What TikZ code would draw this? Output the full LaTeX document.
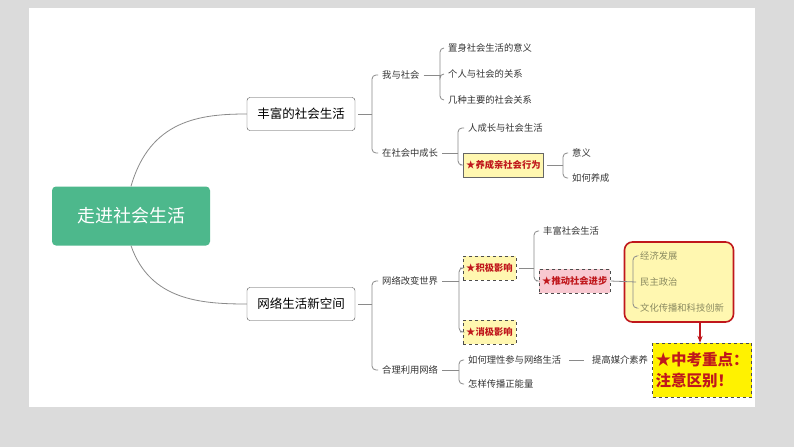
\documentclass[tikz,border=0pt]{standalone}
\usepackage{fontspec}
\setmainfont{Noto Sans CJK SC}
\usetikzlibrary{positioning,arrows.meta}
\definecolor{rootgreen}{HTML}{4DB88C}
\definecolor{lightyel}{HTML}{FFF7B0}
\definecolor{keypink}{HTML}{F8C8D0}
\definecolor{darkred}{HTML}{C0171C}
\definecolor{linegray}{HTML}{8A8A8A}
\definecolor{leafolive}{HTML}{8A8A60}
\newcommand{\lfs}{\fontsize{9.3}{11}\selectfont}
\tikzset{
  leaf/.style={anchor=west, inner sep=1pt, text=black!80, font=\lfs},
  topic/.style={draw=black!70, rounded corners=3pt, fill=white, minimum width=108pt, minimum height=33pt, font=\fontsize{12.5}{15}\selectfont},
  starbox/.style={draw=black!70, dashed, fill=lightyel, anchor=west, text=darkred, font=\lfs\bfseries, inner sep=3pt, minimum height=24pt},
  link/.style={draw=linegray, line width=0.8pt, rounded corners=4pt}
}
\newcommand{\branchto}[3]{% parent, bracket x, list of children
  \draw[link] ([xshift=3pt]#1.east) -- (#2,0 |- #1.east) coordinate (br);
  \foreach \c in {#3} \draw[link] (br) |- ([xshift=-3pt]\c.west);
}
\begin{document}
\begin{tikzpicture}[x=1pt,y=-1pt]
\fill[black!14] (0,0) rectangle (794,447);
\fill[white] (29,8) rectangle (755,407);
% root
\node[fill=rootgreen, rounded corners=4pt, minimum width=158pt, minimum height=59pt, text=white, font=\fontsize{18}{22}\selectfont] (root) at (131,216) {走进社会生活};
\node[topic] (rich) at (301,114) {丰富的社会生活};
\node[topic] (net) at (301,304) {网络生活新空间};
\draw[link] (root.north) .. controls (150,120) and (200,114) .. (rich.west);
\draw[link] (root.south) .. controls (150,300) and (200,304) .. (net.west);
% upper branch
\node[leaf] (me) at (381,75) {我与社会};
\node[leaf] (grow) at (381,153) {在社会中成长};
\branchto{rich}{372}{me,grow}
\node[leaf] (m1) at (447,48) {置身社会生活的意义};
\node[leaf] (m2) at (447,74) {个人与社会的关系};
\node[leaf] (m3) at (447,100) {几种主要的社会关系};
\branchto{me}{440}{m1,m2,m3}
\node[leaf] (g1) at (467,128) {人成长与社会生活};
\node[starbox, draw=black!60, solid] (g2) at (463,165) {★养成亲社会行为};
\branchto{grow}{458}{g1,g2}
\node[leaf] (s1) at (571,153) {意义};
\node[leaf] (s2) at (571,178) {如何养成};
\branchto{g2}{563}{s1,s2}
% lower branch
\node[leaf] (change) at (381,281) {网络改变世界};
\node[leaf] (use) at (381,370) {合理利用网络};
\branchto{net}{372}{change,use}
\node[starbox] (pos) at (463,268) {★积极影响};
\node[starbox] (neg) at (463,332) {★消极影响};
\branchto{change}{459}{pos,neg}
\node[leaf] (p1) at (542,231) {丰富社会生活};
\node[starbox, fill=keypink] (p2) at (539,281) {★推动社会进步};
\branchto{pos}{534}{p1,p2}
\node[draw=darkred, line width=1.6pt, fill=lightyel, rounded corners=8pt, minimum width=109pt, minimum height=80pt] (keys) at (679,282) {};
\node[leaf, text=leafolive] (k1) at (639,256) {经济发展};
\node[leaf, text=leafolive] (k2) at (639,282) {民主政治};
\node[leaf, text=leafolive] (k3) at (639,308) {文化传播和科技创新};
\draw[link] (p2.east) -- ([xshift=-3pt]k2.west);
\draw[link] ([xshift=-3pt]k1.west) -| (633,0 |- k2.west) |- ([xshift=-3pt]k3.west);
\node[leaf] (u1) at (467,360) {如何理性参与网络生活};
\node[leaf] (u2) at (467,384) {怎样传播正能量};
\branchto{use}{459}{u1,u2}
\node[leaf] (u3) at (591,360) {提高媒介素养};
\draw[link] ([xshift=7pt]u1.east) -- ([xshift=-7pt]u3.west);
\node[draw=black!70, dashed, fill=yellow, text=darkred, align=left, font=\fontsize{15.5}{21}\selectfont\bfseries, minimum width=99pt, minimum height=54pt, inner sep=1pt] (exam) at (702,370) {★中考重点：\\注意区别！};
\draw[darkred, line width=1.8pt, -{Stealth[length=7pt]}] (700,0 |- keys.south) -- (700,0 |- exam.north);
\end{tikzpicture}
\end{document}
